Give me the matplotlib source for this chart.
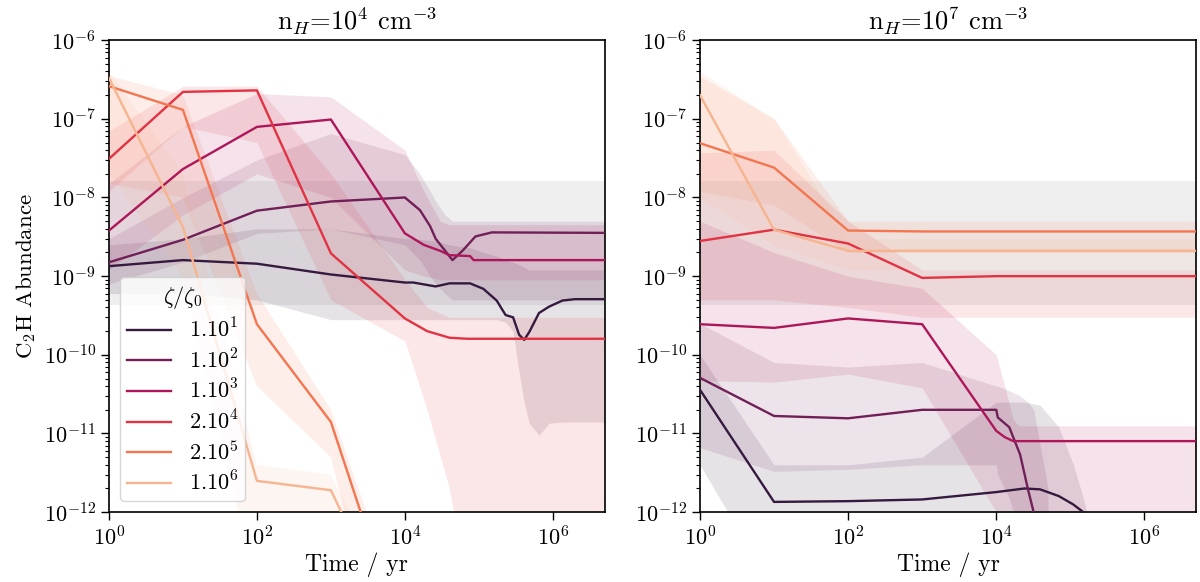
import numpy as np
import matplotlib
matplotlib.use("Agg")
import matplotlib.pyplot as plt
from matplotlib.ticker import NullLocator

plt.rcParams["mathtext.fontset"] = "cm"
plt.rcParams["font.family"] = ["cmr10", "DejaVu Serif"]
plt.rcParams["axes.formatter.use_mathtext"] = True
plt.rcParams["font.size"] = 15

colors = ["#35193e", "#701f57", "#ad1759", "#e13342", "#f37651", "#f6b48f"]
labels = ["1.10$^1$", "1.10$^2$", "1.10$^3$", "2.10$^4$", "2.10$^5$", "1.10$^6$"]

# observed range (grey band)
obs_lo, obs_hi = 4.3e-10, 1.6e-8

# ---------- n_H = 1e4 ----------
tL1 = [1, 10, 1e2, 1e3, 1e4, 1.3e4, 2.6e4, 4e4, 7.6e4, 1.15e5, 1.74e5, 2.3e5, 2.9e5,
       3.5e5, 4.1e5, 4.8e5, 6.5e5, 8.9e5, 1.35e6, 2e6, 5e6]
yL1 = [1.34e-9, 1.6e-9, 1.44e-9, 1.05e-9, 8.3e-10, 8.3e-10, 7.4e-10, 8.1e-10, 8.1e-10, 6.9e-10,
       4.9e-10, 3.2e-10, 3.0e-10, 1.8e-10, 1.55e-10, 1.95e-10, 3.4e-10, 4.1e-10, 4.9e-10, 5.1e-10, 5.1e-10]
loL1 = [6e-10, 6e-10, 5e-10, 2.8e-10, 2.8e-10, 2.8e-10, 2.8e-10, 2.8e-10, 2.8e-10, 2.8e-10,
        2.8e-10, 2.6e-10, 2e-10, 6e-11, 2.5e-11, 1.35e-11, 9.5e-12, 1.35e-11, 1.4e-11, 1.4e-11, 1.4e-11]
hiL1 = [2.5e-9, 3e-9, 4e-9, 4e-9, 3e-9, 3e-9, 2.8e-9, 2.5e-9, 2.3e-9, 2e-9,
        1.8e-9, 1.6e-9, 1.5e-9, 1.4e-9, 1.3e-9, 1.2e-9, 1.2e-9, 1.2e-9, 1.2e-9, 1.2e-9, 1.2e-9]

tL2 = [1, 10, 1e2, 1e3, 1e4, 1.6e4, 2.2e4, 2.6e4, 3.5e4, 4.4e4, 6e4, 9e4, 1.5e5, 5e6]
yL2 = [1.5e-9, 2.9e-9, 6.8e-9, 8.9e-9, 1.0e-8, 6.9e-9, 4.3e-9, 3.0e-9, 2.1e-9, 1.6e-9, 2.1e-9, 3.2e-9, 3.6e-9, 3.55e-9]
loL2 = [8e-10, 1.5e-9, 3.5e-9, 4e-9, 2.5e-9, 1.6e-9, 1e-9, 8e-10, 6e-10, 5e-10, 5e-10, 5e-10, 5e-10, 5e-10]
hiL2 = [3e-9, 1e-8, 3e-8, 6.5e-8, 3.5e-8, 2e-8, 1.2e-8, 9e-9, 6e-9, 5e-9, 5e-9, 5e-9, 5e-9, 5e-9]

tL3 = [1, 10, 1e2, 1e3, 1e4, 1.8e4, 3e4, 4e4, 7.6e4, 8.5e4, 5e6]
yL3 = [3.8e-9, 2.3e-8, 7.9e-8, 9.8e-8, 3.5e-9, 2.5e-9, 2.1e-9, 1.85e-9, 1.8e-9, 1.6e-9, 1.6e-9]
loL3 = [1.2e-9, 6e-9, 2e-8, 1e-8, 1.2e-9, 1e-9, 9e-10, 9e-10, 9e-10, 9e-10, 9e-10]
hiL3 = [1.5e-8, 8e-8, 2.1e-7, 1.9e-7, 4e-8, 1.2e-8, 5e-9, 4.5e-9, 4.5e-9, 4.5e-9, 4.5e-9]

tL4 = [1, 10, 1e2, 1e3, 1e4, 2e4, 4e4, 7e4, 5e6]
yL4 = [3.1e-8, 2.2e-7, 2.3e-7, 1.95e-9, 2.9e-10, 2.0e-10, 1.65e-10, 1.6e-10, 1.6e-10]
loL4 = [1.2e-8, 8e-8, 5e-8, 5e-10, 1.5e-10, 2e-11, 2e-12, 1e-13, 1e-13]
hiL4 = [7e-8, 2.6e-7, 2.6e-7, 2e-8, 9e-10, 4e-10, 3e-10, 3e-10, 3e-10]

tL5 = [1, 10, 1e2, 1e3, 1e4]
yL5 = [2.6e-7, 1.3e-7, 2.45e-10, 1.4e-11, 2e-14]
loL5 = [1.5e-8, 1e-8, 4e-11, 5e-12, 1e-15]
hiL5 = [3.5e-7, 2e-7, 6e-10, 2e-11, 4e-14]

tL6 = [1, 10, 1e2, 1e3, 1e4]
yL6 = [3.3e-7, 4.2e-9, 2.5e-12, 1.9e-12, 2e-14]
loL6 = [2e-8, 1e-9, 1e-13, 1e-13, 1e-16]
hiL6 = [4e-7, 2e-8, 4e-12, 3e-12, 4e-14]

# ---------- n_H = 1e7 ----------
tR1 = [1, 10, 1e2, 1e3, 1e4, 2.4e4, 3.9e4, 7e4, 1.1e5, 1.5e5, 2e5, 3e5]
yR1 = [3.6e-11, 1.35e-12, 1.38e-12, 1.45e-12, 1.8e-12, 2.0e-12, 1.95e-12, 1.6e-12, 1.25e-12, 1.0e-12, 3e-13, 1e-14]
loR1 = [4e-12, 1e-13, 1e-13, 1e-13, 1e-13, 1e-13, 1e-13, 1e-13, 1e-13, 1e-14, 1e-15, 1e-16]
hiR1 = [1e-10, 4e-12, 4e-12, 5e-12, 2.5e-11, 2.5e-11, 2.3e-11, 1.2e-11, 4e-12, 1.5e-12, 5e-13, 1e-13]

tR2 = [1, 10, 1e2, 1e3, 1e4, 1.05e4, 1.5e4, 2.1e4, 2.7e4, 3.2e4, 5e4]
yR2 = [5.1e-11, 1.67e-11, 1.56e-11, 2e-11, 2e-11, 1.6e-11, 1.2e-11, 5.4e-12, 1.9e-12, 1e-12, 1e-14]
loR2 = [6.6e-12, 3.3e-12, 3.5e-12, 4e-12, 4e-12, 3e-12, 1.5e-12, 5e-13, 1e-13, 1e-14, 1e-16]
hiR2 = [2.5e-10, 8e-11, 7e-11, 8e-11, 4e-11, 4e-11, 3.5e-11, 3e-11, 2.5e-11, 2e-11, 2e-12]

tR3 = [1, 10, 1e2, 1e3, 1e4, 1.3e4, 1.7e4, 2e4, 5e6]
yR3 = [2.45e-10, 2.2e-10, 2.9e-10, 2.45e-10, 1.08e-11, 9e-12, 8e-12, 8e-12, 8e-12]
loR3 = [4.7e-11, 4.5e-11, 5.7e-11, 3.8e-11, 1e-12, 5e-13, 2e-13, 1e-13, 1e-13]
hiR3 = [5e-9, 2e-9, 1e-9, 7e-10, 1e-10, 4e-11, 1.5e-11, 1.25e-11, 1.25e-11]

tR4 = [1, 10, 1e2, 1e3, 1e4, 5e6]
yR4 = [2.8e-9, 3.9e-9, 2.6e-9, 9.5e-10, 1e-9, 1e-9]
loR4 = [5e-10, 5e-10, 4e-10, 3e-10, 3e-10, 3e-10]
hiR4 = [3.7e-8, 4e-8, 5e-9, 1.2e-9, 1.2e-9, 1.2e-9]

tR5 = [1, 10, 1e2, 1e3, 5e6]
yR5 = [4.9e-8, 2.4e-8, 3.8e-9, 3.7e-9, 3.7e-9]
loR5 = [1.2e-8, 8e-9, 2e-9, 2e-9, 2e-9]
hiR5 = [3.5e-7, 1e-7, 5e-9, 5e-9, 5e-9]

tR6 = [1, 10, 1e2, 5e6]
yR6 = [2e-7, 3.9e-9, 2.1e-9, 2.1e-9]
loR6 = [1e-8, 2.5e-9, 1.2e-9, 1.2e-9]
hiR6 = [4e-7, 1e-7, 3e-9, 3e-9]

left = [(tL1, yL1, loL1, hiL1), (tL2, yL2, loL2, hiL2), (tL3, yL3, loL3, hiL3),
        (tL4, yL4, loL4, hiL4), (tL5, yL5, loL5, hiL5), (tL6, yL6, loL6, hiL6)]
right = [(tR1, yR1, loR1, hiR1), (tR2, yR2, loR2, hiR2), (tR3, yR3, loR3, hiR3),
         (tR4, yR4, loR4, hiR4), (tR5, yR5, loR5, hiR5), (tR6, yR6, loR6, hiR6)]

y_major = [1e-12, 1e-11, 1e-10, 1e-9, 1e-8, 1e-7, 1e-6]
y_minor = [m * d for d in y_major[:-1] for m in range(2, 10)]

fig = plt.figure(figsize=(12, 5.82), dpi=100)
ax1 = fig.add_axes([0.0908, 0.120, 0.413, 0.811])
ax2 = fig.add_axes([0.5833, 0.120, 0.4135, 0.811])

for ax, data, title in [(ax1, left, "n$_H$=10$^4$ cm$^{-3}$"),
                        (ax2, right, "n$_H$=10$^7$ cm$^{-3}$")]:
    ax.axhspan(obs_lo, obs_hi, color="grey", alpha=0.12, lw=0, zorder=0)
    for (t, y, lo, hi), c, lab in zip(data, colors, labels):
        ax.fill_between(t, lo, hi, color=c, alpha=0.12, lw=0, zorder=1)
        ax.plot(t, y, color=c, lw=1.7, label=lab, zorder=3)
    ax.set_xscale("log")
    ax.set_yscale("log")
    ax.set_xticks([1, 1e2, 1e4, 1e6])
    ax.xaxis.set_minor_locator(NullLocator())
    ax.set_yticks(y_major)
    ax.set_yticks(y_minor, minor=True)
    ax.set_xlim(1, 5e6)
    ax.set_ylim(1e-12, 1e-6)
    ax.tick_params(which="major", length=6, width=1, labelsize=16)
    ax.tick_params(which="minor", length=3, width=0.8)
    for s in ax.spines.values():
        s.set_linewidth(1.2)
    ax.set_title(title, fontsize=19, pad=7)
    ax.set_xlabel("Time / yr", fontsize=17, labelpad=2)

ax1.set_ylabel("C$_2$H Abundance", fontsize=16.5, labelpad=4)
leg = ax1.legend(title=r"$\zeta/\zeta_0$", loc="lower left", fontsize=16, title_fontsize=16,
                 handlelength=2.0, labelspacing=0.3, borderpad=0.3,
                 borderaxespad=0.5, framealpha=0.8)

fig.savefig("out.png", dpi=100)
